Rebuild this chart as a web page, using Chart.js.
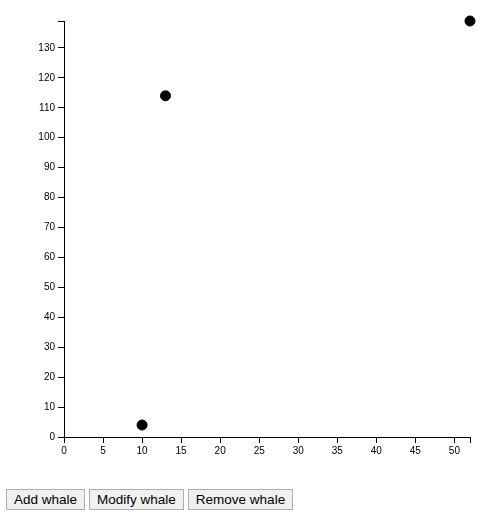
<!DOCTYPE html>
<html>
<head>
<meta charset="utf-8">
<script src="https://cdn.jsdelivr.net/npm/chart.js@4"></script>
<style>
  body { margin: 0; background: #fff; font-family: "Liberation Sans", Arial, sans-serif; }
  #wrap { position: absolute; left: 0; top: 0; width: 486px; height: 470px; }
  #controls { position: absolute; left: 6px; top: 489px; display: flex; gap: 4px; }
  button {
    font-family: "Liberation Sans", Arial, sans-serif;
    font-size: 13.5px;
    color: #000;
    background: #f0f0f0;
    border: 1px solid #adadad;
    border-radius: 0;
    padding: 1px 7px;
    height: 21px;
    margin: 0;
  }
</style>
</head>
<body>
<div id="wrap"><canvas id="myChart" width="486" height="470"></canvas></div>
<div id="controls">
  <button>Add whale</button>
  <button>Modify whale</button>
  <button>Remove whale</button>
</div>
<script>
var whaleX = [10, 13, 52];
var whaleY = [4, 114, 139];
var xMax = 52;
var yMax = 139;
var xTicks = [0, 5, 10, 15, 20, 25, 30, 35, 40, 45, 50];
var yTicks = [0, 10, 20, 30, 40, 50, 60, 70, 80, 90, 100, 110, 120, 130];

var points = whaleX.map(function (x, i) { return {x: x, y: whaleY[i]}; });

// tick list = labelled ticks + an unlabelled end tick at the domain max
function setTicks(list, max) {
  return function (scale) {
    scale.ticks = list.map(function (v) { return {value: v}; });
    scale.ticks.push({value: max});
  };
}

var ctx = document.getElementById('myChart').getContext('2d');
var myChart = new Chart(ctx, {
  type: 'scatter',
  data: {
    datasets: [{
      data: points,
      backgroundColor: '#000',
      borderColor: '#000',
      pointRadius: 5,
      pointHoverRadius: 5,
      clip: false
    }]
  },
  options: {
    responsive: false,
    animation: false,
    layout: { padding: { top: 21, right: 16, left: 0, bottom: 0 } },
    plugins: {
      legend: { display: false },
      tooltip: { enabled: false }
    },
    scales: {
      x: {
        type: 'linear',
        min: 0,
        max: xMax,
        afterBuildTicks: setTicks(xTicks, xMax),
        afterFit: function (scale) { scale.height = 33; },
        border: { display: true, color: '#000', width: 1 },
        grid: { drawOnChartArea: false, drawTicks: true, tickLength: 6, color: '#000' },
        ticks: {
          autoSkip: false,
          maxRotation: 0,
          padding: 2,
          color: '#000',
          font: { family: 'Liberation Sans', size: 10 },
          callback: function (v) { return xTicks.indexOf(v) >= 0 ? v : ''; }
        }
      },
      y: {
        type: 'linear',
        min: 0,
        max: yMax,
        afterBuildTicks: setTicks(yTicks, yMax),
        afterFit: function (scale) { scale.width = 64; },
        border: { display: true, color: '#000', width: 1 },
        grid: { drawOnChartArea: false, drawTicks: true, tickLength: 6, color: '#000' },
        ticks: {
          autoSkip: false,
          padding: 3,
          color: '#000',
          font: { family: 'Liberation Sans', size: 10 },
          callback: function (v) { return yTicks.indexOf(v) >= 0 ? v : ''; }
        }
      }
    }
  }
});
</script>
</body>
</html>
